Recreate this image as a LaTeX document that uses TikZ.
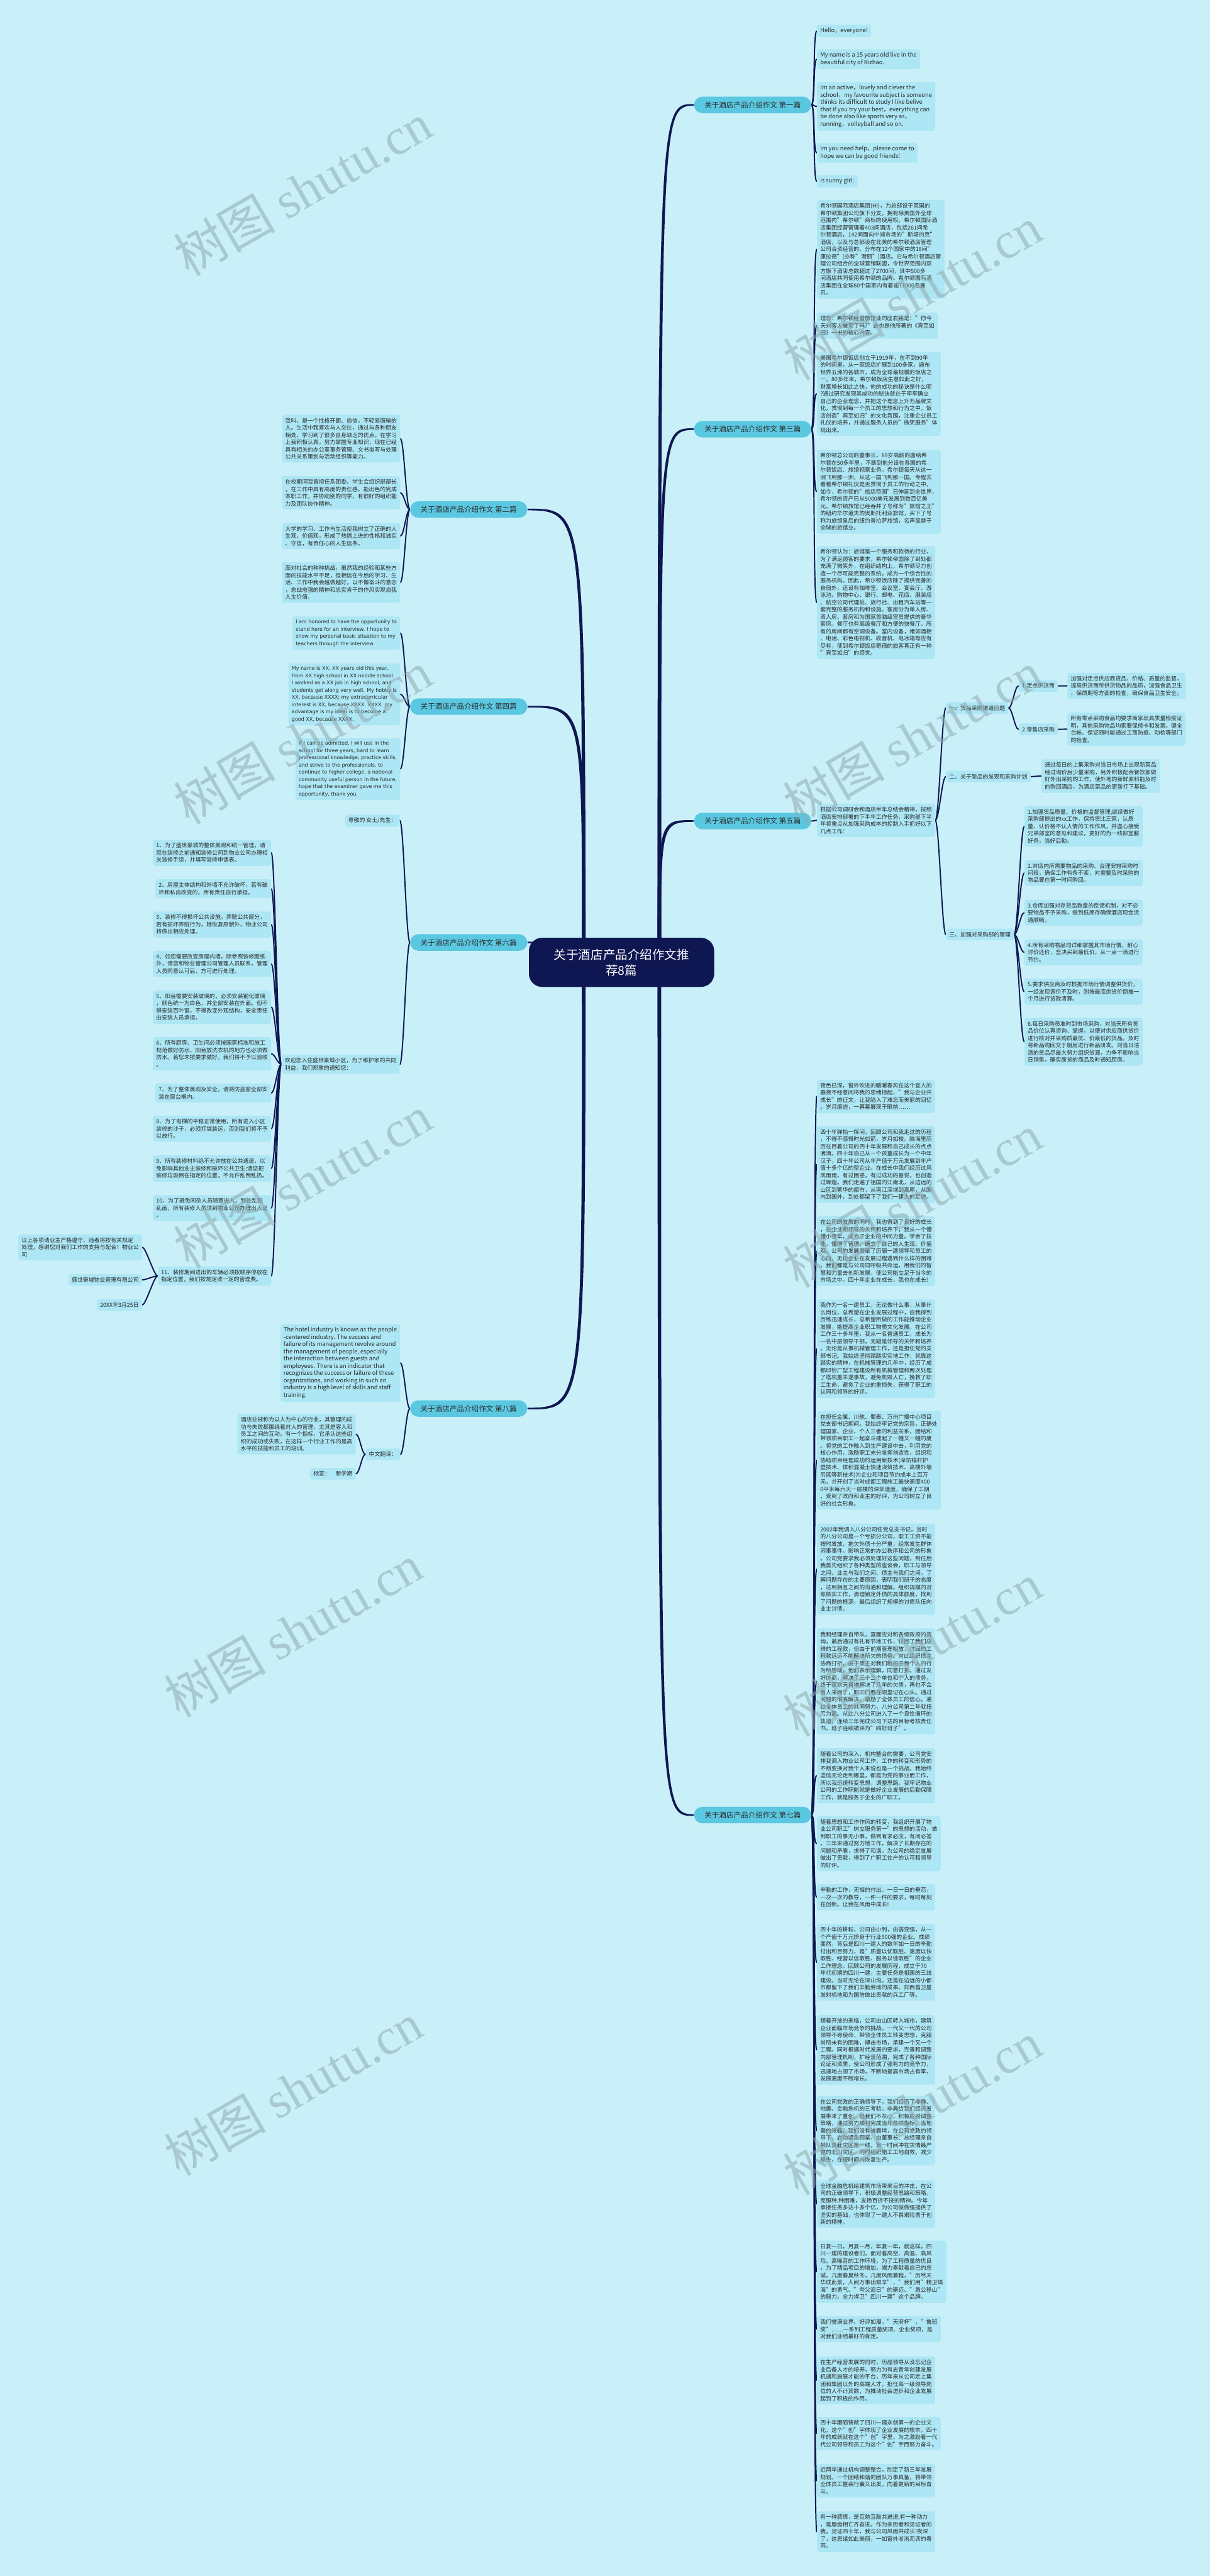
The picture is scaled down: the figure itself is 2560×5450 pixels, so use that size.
\documentclass[tikz,border=0pt]{standalone}
\usepackage{fontspec}
\setmainfont{Noto Sans CJK SC}
\newfontfamily\verdfont{DejaVu Sans}
\newfontfamily\wmlatin{Liberation Serif}
\usetikzlibrary{positioning,calc}

\definecolor{bgc}{HTML}{C9F0F8}
\definecolor{boxc}{HTML}{ADE6F4}
\definecolor{brc}{HTML}{5BC8E2}
\definecolor{navy}{HTML}{0F1752}
\definecolor{txt}{HTML}{2A2A2A}
\definecolor{wmc}{HTML}{8FAAB0}

\newcommand{\leaffont}{\fontsize{5.9}{7.65}\selectfont}
\newcommand{\engfont}{\fontsize{6.2}{7.65}\selectfont}
\newcommand{\verdsize}{\verdfont\fontsize{5.3}{7.65}\selectfont}

% tapered line from the centre: start, end anchor, x direction, y direction
\newcommand{\rootlink}[4]{%
  \fill[navy] ($(#1)+({-4*(#3)},0)$) .. controls ($(#1 |- #2)+({-3*(#3)},{3*(#4)})$) .. ($(#2)+(0,{1.6*(#4)})$)
    -- ($(#2)+(0,{-1.6*(#4)})$) .. controls ($(#1 |- #2)+({3*(#3)},{-3*(#4)})$) .. ($(#1)+({4*(#3)},0)$) -- cycle;}

\pgfdeclarelayer{bg}
\pgfsetlayers{bg,main}

\tikzset{rootbox/.style={fill=navy,text=white,rounded corners=14pt,minimum width=196pt,minimum height=52pt,align=center,font=\fontsize{13}{16.5}\selectfont},
  branch/.style={fill=brc,text=txt,rounded corners=8.75pt,minimum width=124pt,minimum height=17.5pt,inner xsep=6pt,font=\fontsize{7.7}{9}\selectfont},
  leaf/.style={fill=boxc,text=txt,rounded corners=2.5pt,inner xsep=3.5pt,inner ysep=3.4pt,align=left,font=\leaffont},
  eleaf/.style={leaf,font=\engfont},
  vleaf/.style={leaf,font=\verdsize},
  rl/.style={out=0,in=180,out distance=4pt,in distance=4pt},
  lr/.style={out=180,in=0,out distance=4pt,in distance=4pt},
  link/.style={draw=navy,line width=1.3pt,line cap=round},
  wmark/.style={text=wmc,opacity=0.55,rotate=30,font=\fontsize{54}{54}\selectfont} }

\begin{document}
\begin{tikzpicture}[x=0.5pt,y=-0.5pt]
\useasboundingbox (0,0) rectangle (2560,5450);

% centre and the eight branches
\node[rootbox] (root) at (1315,2036) {关于酒店产品介绍作文推\\荐8篇};
\coordinate (rootR) at (1395,2036);
\coordinate (rootL) at (1235,2036);

\node[branch,anchor=west] (b1) at (1468,222) {关于酒店产品介绍作文 第一篇};
\node[branch,anchor=west] (b3) at (1468,908) {关于酒店产品介绍作文 第三篇};
\node[branch,anchor=west] (b5) at (1468,1737) {关于酒店产品介绍作文 第五篇};
\node[branch,anchor=west] (b7) at (1468,3840) {关于酒店产品介绍作文 第七篇};
\node[branch,anchor=east] (b2) at (1116,1078) {关于酒店产品介绍作文 第二篇};
\node[branch,anchor=east] (b4) at (1116,1495) {关于酒店产品介绍作文 第四篇};
\node[branch,anchor=east] (b6) at (1116,1994) {关于酒店产品介绍作文 第六篇};
\node[branch,anchor=east] (b8) at (1116,2980) {关于酒店产品介绍作文 第八篇};

% first
\node[eleaf,anchor=north west] (f1) at (1728,52) {Hello，everyone!};
\node[eleaf,anchor=north west] (f2) at (1728,104) {My name is  a 15 years old  live in the\\beautiful city of Rizhao.};
\node[eleaf,anchor=north west] (f3) at (1728,173) {Im an active，lovely and clever  the\\school，my favourite subject is  someone\\ thinks its difficult to study  I like  belive\\that if you try your best，everything can\\be done  also like sports very  as，\\running，volleyball and so on.};
\node[eleaf,anchor=north west] (f4) at (1728,302) {Im  you need help，please come to\\hope we can be good friends!};
\node[eleaf,anchor=north west] (f5) at (1728,370) {is  sunny girl.};

% third
\node[leaf,anchor=north west] (t1) at (1728,423) {希尔顿国际酒店集团(HI)，为总部设于英国的\\希尔顿集团公司旗下分支，拥有除美国外全球\\范围内"希尔顿"商标的使用权。希尔顿国际酒\\店集团经营管理着403间酒店，包括261间希\\尔顿酒店，142间面向中端市场的"斯堪的克"\\酒店，以及与总部设在北美的希尔顿酒店管理\\公司合资经营的、分布在12个国家中的18间"\\康拉德"(亦称"港丽")酒店。它与希尔顿酒店管\\理公司组合的全球营销联盟，令世界范围内双\\方旗下酒店总数超过了2700间，其中500多\\间酒店共同使用希尔顿的品牌。希尔顿国际酒\\店集团在全球80个国家内有着逾71000名雇\\员。};
\node[leaf,anchor=north west] (t2) at (1728,661) {理念：希尔顿经营旅馆业的座右铭是："你今\\天对客人微笑了吗?"这也是他所著的《宾至如\\归》一书的核心内容。};
\node[leaf,anchor=north west] (t3) at (1728,744) {美国希尔顿饭店创立于1919年，在不到90年\\的时间里，从一家饭店扩展到100多家，遍布\\世界五洲的各城市，成为全球最规模的饭店之\\一。80多年来，希尔顿饭店生意如此之好，\\财富增长如此之快，他的成功的秘诀是什么呢\\?通过研究发现其成功的秘诀就在于牢牢确立\\自己的企业理念，并把这个理念上升为品牌文\\化，贯彻到每一个员工的思想和行为之中，饭\\店创造"宾至如归"的文化氛围，注重企业员工\\礼仪的培养，并通过服务人员的"微笑服务"体\\现出来。};
\node[leaf,anchor=north west] (t4) at (1728,951) {希尔顿总公司的董事长，89岁高龄的唐纳希\\尔顿在50多年里，不断到他分设在各国的希\\尔顿饭店、旅馆视察业务。希尔顿每天从这一\\洲飞到那一洲，从这一国飞到那一国。专程去\\看看希尔顿礼仪是否贯彻于员工的行动之中。\\如今，希尔顿的"旅店帝国"已伸延到全世界，\\希尔顿的资产已从5000美元发展到数百亿美\\元。希尔顿旅馆已经吞并了号称为"旅馆之王"\\的纽约华尔道夫的奥斯托利亚旅馆，买下了号\\称为旅馆皇后的纽约普拉萨旅馆，名声显赫于\\全球的旅馆业。};
\node[leaf,anchor=north west] (t5) at (1728,1155) {希尔顿认为：旅馆是一个服务和款待的行业，\\为了满足顾客的要求，希尔顿帝国除了到处都\\充满了微笑外，在组织结构上，希尔顿尽力创\\造一个尽可能完整的系统，成为一个综合性的\\服务机构。因此，希尔顿饭店除了提供完善的\\食宿外，还设有咖啡室、会议室、宴会厅、游\\泳池、购物中心、银行、邮电、花店、服装店\\、航空公司代理处、旅行社、出租汽车站等一\\套完整的服务机构和设施。客房分为单人房、\\双人房、套房和为国家首脑级官员提供的豪华\\套房。餐厅也有高级餐厅和方便的快餐厅。所\\有的房间都有空调设备。室内设备，诸如酒柜\\、电话、彩色电视机、收音机、电冰箱等应有\\尽有，使到希尔顿饭店寄宿的旅客真正有一种\\"宾至如归"的感觉。};

% fifth
\node[leaf,anchor=north west] (p0) at (1728,1700) {根据公司调研会和酒店半年总结会精神，按照\\酒店安排部署的下半年工作任务，采购部下半\\年将重点从加强采购成本的控制入手抓好以下\\几点工作：};
\node[leaf,anchor=west] (s1) at (2001,1498) {一、货品采购渠道问题};
\node[leaf,anchor=west] (s2) at (2001,1643) {二、关于新品的发现和采购计划};
\node[leaf,anchor=west] (s3) at (2001,1977) {三、加强对采购部的管理};
\node[leaf,anchor=west] (s11) at (2155,1451) {1.定点供货商};
\node[leaf,anchor=west] (s12) at (2155,1543) {2.零售店采购};
\node[leaf,anchor=north west] (q1) at (2258,1423) {加强对定点供应商货品、价格、质量的监督，\\提高供货商所供货物品的品质，加强食品卫生\\、保质期等方面的检查，确保食品卫生安全。};
\node[leaf,anchor=north west] (q2) at (2258,1507) {所有零点采购食品均要求商家出具质量检疫证\\明，其他采购物品均索要保修卡和发票。健全\\台帐、保证随时能通过工商防疫、动检等部门\\的检查。};
\node[leaf,anchor=north west] (q3) at (2203,1606) {通过每日的上集采购对当日市场上出现新菜品\\经过询价后少量采购，另外积极配合餐饮部做\\好外出采购的工作，使外地的新鲜原料能及时\\的购回酒店，为酒店菜品的更新打下基础。};
\node[leaf,anchor=north west] (c1) at (2167,1705) {1.加强货品质量、价格的监督管理;继续做好\\采购部提出的xx工作，保持货比三家，认质\\量、认价格不认人情的工作作风，并虚心接受\\兄弟部室的意见和建议，更好的为一线部室服\\好务，当好后勤。};
\node[leaf,anchor=north west] (c2) at (2167,1819) {2.对店内所需要物品的采购、合理安排采购时\\间段，确保工作有条不紊，对需要及时采购的\\物品要在第一时间购回。};
\node[leaf,anchor=north west] (c3) at (2167,1903) {3.仓库加强对存货品数量的反馈机制，对不必\\要物品不予采购，做到低库存确保酒店现金流\\通顺畅。};
\node[leaf,anchor=north west] (c4) at (2167,1987) {4.所有采购物品均详细掌握其市场行情，耐心\\讨价还价，坚决买到最低价，从一点一滴进行\\节约。};
\node[leaf,anchor=north west] (c5) at (2167,2070) {5.要求供应商及时根据市场行情调整供货价，\\一经发现调价不及时，则按最底供货价倒推一\\个月进行货款清算。};
\node[leaf,anchor=north west] (c6) at (2167,2153) {6.每日采购员准时到市场采购，对当天所有货\\品价位认真咨询、掌握，以便对供应商供货价\\进行核对并采购质最优、价最低的货品。及时\\将新品购回交于厨房进行新品研发。对当日沽\\清的货品尽最大努力组织货源，力争不影响当\\日销售，确实断货的商品及时通知厨房。};

% seventh
\node[leaf,anchor=north west] (g1) at (1728,2284) {夜色已深，窗外吹进的暖暖春风在这个宜人的\\春夜不经意间将我的思绪掠起，"我与企业共\\成长"的征文，让我陷入了难忘而美丽的回忆\\。岁月痕迹，一幕幕展现于眼前……};
\node[leaf,anchor=north west] (g2) at (1728,2382) {四十年弹指一挥间，回顾公司和我走过的历程\\，不得不感慨时光如箭，岁月如梭。脑海里历\\历在目着公司的四十年发展和自己成长的点点\\滴滴。四十年自己从一个孩童成长为一个中年\\汉子，四十年公司从年产值千万元发展到年产\\值十多个亿的型企业。在成长中我们经历过风\\风雨雨，有过困惑，有过成功的喜悦，也创造\\过辉煌。我们走遍了祖国的江南北，从边远的\\山区到繁华的都市，从南江深圳到高原，从国\\内到国外，到处都留下了我们一建人的足迹。};
\node[leaf,anchor=north west] (g3) at (1728,2573) {在公司的发展的同时，我也得到了良好的成长\\，在企业和领导的关怀和培养下，我从一个懵\\懂小青年，成为了企业的中间力量。学会了技\\能，懂得了管理，确立了自己的人生观、价值\\观。公司的发展凝聚了历届一建领导和员工的\\心血，无论企业在发展过程遇到什么样的困难\\，我们都是与公司同呼吸共命运，用我们的智\\慧和力量去创新发展，使公司能立足于当今的\\市场之中。四十年企业在成长，我也在成长!};
\node[leaf,anchor=north west] (g4) at (1728,2749) {我作为一名一建员工，无论做什么事，从事什\\么岗位，总希望在企业发展过程中，自我得到\\历练迅速成长，总希望所做的工作能推动企业\\发展，能提高企业职工物质文化发展。在公司\\工作三十多年里，我从一名普通员工，成长为\\一名中层领导干部，无疑是领导的关怀和培养\\。无论是从事机械管理工作，还是担任党的支\\部书记。我始终坚持踏踏实实地工作，就靠这\\踏实的精神，在机械管理的几年中，经历了成\\都印钞厂型工程建设所有机械管理和两次处理\\了塔机重未遂事故，避免机毁人亡，挽救了职\\工生命，避免了企业的重损失，获得了职工的\\认同和领导的好评。};
\node[leaf,anchor=north west] (g5) at (1728,2985) {在担任金属、川航、蜀泰、万州广播中心项目\\党支部书记期间。我始终牢记党的宗旨，正确处\\理国家、企业、个人三者的利益关系，团结和\\带领项目职工一起奋斗建起了一幢又一幢的厦\\。将党的工作融入到生产建设中去，利用党的\\核心作用，激励职工充分发挥创造性，组织和\\协助项目经理成功的运用新技术(深坑锚杆护\\壁技术、体积混凝土快速浇筑技术、高楼外墙\\吊篮等新技术)为企业和项目节约成本上百万\\元，并开创了当时成都工程施工最快速度400\\0平米每六天一层楼的深圳速度，确保了工期\\，受到了政府和业主的好评，为公司树立了良\\好的社会形象。};
\node[leaf,anchor=north west] (g6) at (1728,3223) {2002年我调入八分公司任党总支书记，当时\\的八分公司是一个亏损分公司，职工工资不能\\按时发放，拖欠外债十分严重，经常发生群体\\闹事事件，影响正常的办公秩序和公司的形象\\。公司党要求我必须处理好这些问题，到任后\\我首先组织了各种类型的座谈会，职工与领导\\之间、业主与我们之间、债主与我们之间，了\\解问题存在的主要原因，表明我们班子的态度\\，达到相互之间的沟通和理解。组织规模的对\\账核实工作，清理锁定外债的具体额度，找到\\了问题的根源，最后组织了规模的讨债队伍向\\业主讨债。};
\node[leaf,anchor=north west] (g7) at (1728,3445) {我和经理亲自带队，直面应对和各级政府的咨\\询，最后通过有礼有节地工作，讨回了我们应\\得的工程款，但由于前期管理粗放，讨回的工\\程款远远不能解决所欠的债务。对此组织债主\\协商打折，由于债主对我们新班子每个人的行\\为所感动，他们表示理解，同意打折。通过友\\好协商，解决了三十二个单位和个人的债务，\\终于家欢天喜地解决了几年的欠债，再也不会\\有人来闹了，职工们看在眼里记在心头。通过\\问题的彻底解决，激励了全体员工的信心，通\\过全体员工的共同努力，八分公司第二年就扭\\亏为盈。从此八分公司进入了一个良性循环的\\轨道，连续三年完成公司下达的目标考核责任\\书，班子连续被评为"四好班子"。};
\node[leaf,anchor=north west] (g8) at (1728,3698) {随着公司的深入，机构整合的需要，公司党安\\排我调入物业公司工作，工作的转变和形势的\\不断变换对我个人来说也是一个挑战。我始终\\坚信无论走到哪里，都是为党的事业而工作，\\所以我迅速转变思想，调整思路。我牢记物业\\公司的工作职能就是做好企业发展的后勤保障\\工作，就是服务于企业的广职工。};
\node[leaf,anchor=north west] (g9) at (1728,3842) {随着思想和工作作风的转变，我组织开展了物\\业公司职工"树立服务第一"的思想的活动，做\\到职工的事无小事，做到有求必应，有问必答\\。三年来通过努力地工作，解决了长期存在的\\问题和矛盾，求得了和谐，为公司的稳定发展\\做出了贡献，得到了广职工住户的认可和领导\\的好评。};
\node[leaf,anchor=north west] (g10) at (1728,3986) {辛勤的工作，无悔的付出。一日一日的垂范，\\一次一次的教导，一件一件的要求，每时每刻\\在创新。让我在风雨中成长!};
\node[leaf,anchor=north west] (g11) at (1728,4070) {四十年的耕耘，公司由小到，由弱变强，从一\\个产值千万元挤身于行业500强的企业。成绩\\斐然，背后是四川一建人的数年如一日的辛勤\\付出和巨努力，是"质量以优取胜、速度以快\\取胜、经营以信取胜、服务以佳取胜"的企业\\工作理念。回顾公司的发展历程，成立于70\\年代初期的四川一建，主要任务是祖国的三线\\建设。当时无论在深山沟，还是在边远的小都\\市都留下了我们辛勤劳动的成果。如西昌卫星\\发射机地和为国防做出贡献的兵工厂等。};
\node[leaf,anchor=north west] (g12) at (1728,4263) {随着开放的来临，公司由山区转入城市，建筑\\企业面临市场竞争的挑战，一代又一代的公司\\领导不辱使命，带领全体员工转变思想，克服\\前所未有的困难，搏击市场，承建一个又一个\\工程。同时根据时代发展的要求，完善和调整\\内部管理机制，扩经营范围，完成了各种国际\\论证和资质，使公司形成了强有力的竞争力，\\迅速地占领了市场，不断地提高市场占有率，\\发展速度不断增长。};
\node[leaf,anchor=north west] (g13) at (1728,4434) {在公司党政的正确领导下，我们经历了非典、\\地震、金融危机的三考验。非典给我们经济发\\展带来了重创，但我们不灰心，积极应对调整\\策略，通过努力顺利完成当年各项指标。当地\\震的来临，我们没有被震垮，在公司党政的领\\导下，启动紧急预案，由董事长、总经理亲自\\带队奔赴灾区第一线，第一时间冲在灾情最严\\重的北川灾区，同时组织施工工地自救，减少\\损失，在短时间内恢复生产。};
\node[leaf,anchor=north west] (g14) at (1728,4612) {全球金融危机给建筑市场带来巨的冲击，在公\\司的正确领导下，积极调整经营思路和策略，\\克服种.种困难，发扬百折不挠的精神。今年\\承接任务多达十多个亿，为公司做做强提供了\\坚实的基础，也体现了一建人不畏艰险勇于创\\新的精神。};
\node[leaf,anchor=north west] (g15) at (1728,4740) {日复一日，月复一月，年复一年，就这样，四\\川一建的建设者们，面对着高空、高温、高风\\险、高噪音的工作环境，为了工程质量的优良\\，为了精品项目的增加，竭力奉献着自己的忠\\诚。几度春夏秋冬，几度风雨兼程，"历尽天\\华成此景，人间万事出艰辛"，"我们用"精卫填\\海"的勇气、"夸父追日"的豪迈、"愚公移山"\\的毅力，全力捍卫"四川一建"这个品牌。};
\node[leaf,anchor=north west] (g16) at (1728,4900) {我们誉满业界、好评如潮，"天府杯"，"鲁班\\奖"……一系列工程质量奖项、企业奖项，是\\对我们业绩最好的肯定。};
\node[leaf,anchor=north west] (g17) at (1728,4985) {在生产经营发展的同时，历届领导从没忘记企\\业后备人才的培养，努力为有志青年创建发展\\机遇和施展才能的平台，历年来从公司走上集\\团和集团以外的高端人才，担任高一级领导岗\\位的人不计其数，为推动社会进步和企业发展\\起到了积极的作用。};
\node[leaf,anchor=north west] (g18) at (1728,5113) {四十年磨砺铸就了四川一建永创第一的企业文\\化，这个"创"字体现了企业发展的根本，四十\\年的成就就在这个"创"字里，为之激励着一代\\代公司领导和员工为这个"创"字而努力奋斗。};
\node[leaf,anchor=north west] (g19) at (1728,5213) {近两年通过机构调整整合，制定了新三年发展\\规划。一个团结和谐的团队万事具备，将带领\\全体员工整装行囊又出发，向着更新的目标奋\\斗。};
\node[leaf,anchor=north west] (g20) at (1728,5313) {有一种感情，是互勉互励共进退;有一种动力\\，是唇齿相亡齐奋进。作为亲历者和见证者的\\我，见证四十年，我与公司风雨共成长!夜深\\了，这思绪如此美丽，一如窗外淅淅沥沥的春\\雨。};

% second
\node[leaf,anchor=north east] (e1) at (847,877) {我叫，是一个性格开朗、自信，不轻易服输的\\人。生活中我喜欢与人交往，通过与各种朋友\\相处，学习到了很多自身缺乏的优点。在学习\\上我积极认真，努力掌握专业知识，现在已经\\具有相关的办公室事务管理、文书拟写与处理\\公共关系策划与活动组织等能力。};
\node[leaf,anchor=north east] (e2) at (847,1007) {在校期间我曾担任系团委、学生会组织部部长\\，在工作中具有高度的责任感，能出色的完成\\本职工作，并协助别的同学，有很好的组织能\\力及团队协作精神。};
\node[leaf,anchor=north east] (e3) at (847,1106) {大学的学习、工作与生活使我树立了正确的人\\生观、价值观，形成了热情上进的性格和诚实\\、守信，有责任心的人生信条。};
\node[leaf,anchor=north east] (e4) at (847,1189) {面对社会的种种挑战，虽然我的经验和某些方\\面的技能水平不足，但相信在今后的学习、生\\活、工作中我会越做越好，以不懈奋斗的意念\\，愈战愈强的精神和忠实肯干的作风实现自我\\人生价值。};

% fourth
\node[vleaf,anchor=north east] (e5) at (847,1304) {I am honored to have the opportunity to\\stand here for an interview. I hope to\\show my personal basic situation to my\\teachers through the interview};
\node[vleaf,anchor=north east] (e6) at (847,1403) {My name is XX, XX years old this year,\\from XX high school in XX middle school.\\ I worked as a XX job in high school, and\\students get along very well. My hobby is\\ XX, because XXXX; my extracurricular\\interest is XX, because XXXX. XXXX. my\\advantage is my ideal is to become a\\good XX, because XXXX.};
\node[vleaf,anchor=north east] (e7) at (847,1561) {If I can be admitted, I will use in the\\school for three years, hard to learn\\professional knowledge, practice skills,\\and strive to the professionals, to\\continue to higher college, a national\\community useful person in the future,\\hope that the examiner gave me this\\opportunity, thank you.};

% sixth
\node[leaf,anchor=north east] (x0) at (846,1723) {尊敬的 女士/先生：};
\node[leaf,anchor=north east] (x1) at (846,2231) {欢迎您入住盛世豪城小区，为了维护家的共同\\利益，我们郑重的通知您：};
\node[leaf,anchor=north east] (n1) at (574,1776) {1、为了盛世豪城的整体美观和统一管理，请\\您在装修之前通知装修公司到物业公司办理相\\关装修手续，并填写装修申请表。};
\node[leaf,anchor=north east] (n2) at (574,1860) {2、房屋主体结构和外墙不允许破坏，若有破\\坏和私自改变的，所有责任自行承担。};
\node[leaf,anchor=north east] (n3) at (574,1928) {3、装修不得损坏公共设施，弄赃公共部分，\\若有损坏弄赃行为，除恢复原貌外，物业公司\\将做出相应处理。};
\node[leaf,anchor=north east] (n4) at (574,2011) {4、如您需要改变房屋内墙，除参照装修图纸\\外，请您和物业管理公司管理人员联系，管理\\人员同意认可后，方可进行处理。};
\node[leaf,anchor=north east] (n5) at (574,2095) {5、阳台需要安装玻璃的，必须安装钢化玻璃\\，颜色统一为白色，并全部安装在外面。但不\\得安装百叶窗，不得改变外观结构，安全责任\\由安装人员承担。};
\node[leaf,anchor=north east] (n6) at (574,2194) {6、所有厨房、卫生间必须按国家标准和施工\\规范做好防水，阳台放洗衣机的地方也必须做\\防水。若您未按要求做好，我们将不予以验收\\。};
\node[leaf,anchor=north east] (n7) at (574,2292) {7、为了整体美观及安全，请将防盗窗全部安\\装在窗台框内。};
\node[leaf,anchor=north east] (n8) at (574,2360) {8、为了电梯的平稳正常使用，所有进入小区\\装修的沙子，必须打袋装运，否则我们将不予\\以放行。};
\node[leaf,anchor=north east] (n9) at (574,2444) {9、所有装修材料绝不允许放在公共通道，以\\免影响其他业主装修和破坏公共卫生;请您把\\装修垃圾倒在指定的位置，不允许乱倒乱扔。};
\node[leaf,anchor=north east] (n10) at (574,2528) {10、为了避免闲杂人员随意进入，到处乱贴\\乱画，所有装修人员须到物业公司办理出入证\\。};
\node[leaf,anchor=north east] (n11) at (574,2679) {11、装修期间进出的车辆必须按顺序停放在\\指定位置，我们按规定收一定的管理费。};
\node[leaf,anchor=north east] (z1) at (301,2611) {以上各项请业主严格遵守，违者将按有关规定\\处理，感谢您对我们工作的支持与配合！物业公\\司};
\node[leaf,anchor=north east] (z2) at (301,2695) {盛世豪城物业管理有限公司};
\node[leaf,anchor=north east] (z3) at (301,2748) {20XX年3月25日};

% eighth
\node[eleaf,anchor=north east] (h1) at (847,2801) {The hotel industry is known as the people\\-centered industry. The success and\\failure of its management revolve around\\ the management of people, especially\\the interaction between guests and\\employees. There is an indicator that\\recognizes the success or failure of these\\organizations, and working in such an\\industry is a high level of skills and staff\\training.};
\node[leaf,anchor=east] (h2) at (847,3077) {中文翻译：};
\node[leaf,anchor=north east] (h3) at (753,2991) {酒店业被称为以人为中心的行业，其管理的成\\功与失败都围绕着对人的管理，尤其是客人和\\员工之间的互动。有一个指标，它承认这些组\\织的成功或失败，在这样一个行业工作的是高\\水平的技能和员工的培训。};
\node[leaf,anchor=east] (h4) at (753,3118) {标签：\quad 新学期};

\begin{pgfonlayer}{bg}
\fill[bgc] (0,0) rectangle (2560,5450);
% root to branches
\rootlink{rootR}{b1.west}{1}{-1}
\rootlink{rootR}{b3.west}{1}{-1}
\rootlink{rootR}{b5.west}{1}{-1}
\rootlink{rootR}{b7.west}{1}{1}
\rootlink{rootL}{b2.east}{-1}{-1}
\rootlink{rootL}{b4.east}{-1}{-1}
\rootlink{rootL}{b6.east}{-1}{-1}
\rootlink{rootL}{b8.east}{-1}{1}

\path[link]
  (b1.east) edge[rl] (f1.west)
  (b1.east) edge[rl] (f2.west)
  (b1.east) edge[rl] (f3.west)
  (b1.east) edge[rl] (f4.west)
  (b1.east) edge[rl] (f5.west)

  (b3.east) edge[rl] (t1.west)
  (b3.east) edge[rl] (t2.west)
  (b3.east) edge[rl] (t3.west)
  (b3.east) edge[rl] (t4.west)
  (b3.east) edge[rl] (t5.west)

  (b5.east) edge[rl] (p0.west)
  (p0.east) edge[rl] (s1.west)
  (p0.east) edge[rl] (s2.west)
  (p0.east) edge[rl] (s3.west)
  (s1.east) edge[rl] (s11.west)
  (s1.east) edge[rl] (s12.west)
  (s11.east) edge[rl] (q1.west)
  (s12.east) edge[rl] (q2.west)
  (s2.east) edge[rl] (q3.west)
  (s3.east) edge[rl] (c1.west)
  (s3.east) edge[rl] (c2.west)
  (s3.east) edge[rl] (c3.west)
  (s3.east) edge[rl] (c4.west)
  (s3.east) edge[rl] (c5.west)
  (s3.east) edge[rl] (c6.west);

\path[link]
  (b7.east) edge[rl] (g1.west)
  (b7.east) edge[rl] (g2.west)
  (b7.east) edge[rl] (g3.west)
  (b7.east) edge[rl] (g4.west)
  (b7.east) edge[rl] (g5.west)
  (b7.east) edge[rl] (g6.west)
  (b7.east) edge[rl] (g7.west)
  (b7.east) edge[rl] (g8.west)
  (b7.east) edge[rl] (g9.west)
  (b7.east) edge[rl] (g10.west)
  (b7.east) edge[rl] (g11.west)
  (b7.east) edge[rl] (g12.west)
  (b7.east) edge[rl] (g13.west)
  (b7.east) edge[rl] (g14.west)
  (b7.east) edge[rl] (g15.west)
  (b7.east) edge[rl] (g16.west)
  (b7.east) edge[rl] (g17.west)
  (b7.east) edge[rl] (g18.west)
  (b7.east) edge[rl] (g19.west)
  (b7.east) edge[rl] (g20.west);

\path[link]
  (b2.west) edge[lr] (e1.east)
  (b2.west) edge[lr] (e2.east)
  (b2.west) edge[lr] (e3.east)
  (b2.west) edge[lr] (e4.east)
  (b4.west) edge[lr] (e5.east)
  (b4.west) edge[lr] (e6.east)
  (b4.west) edge[lr] (e7.east)

  (b6.west) edge[lr] (x0.east)
  (b6.west) edge[lr] (x1.east)
  (x1.west) edge[lr] (n1.east)
  (x1.west) edge[lr] (n2.east)
  (x1.west) edge[lr] (n3.east)
  (x1.west) edge[lr] (n4.east)
  (x1.west) edge[lr] (n5.east)
  (x1.west) edge[lr] (n6.east)
  (x1.west) edge[lr] (n7.east)
  (x1.west) edge[lr] (n8.east)
  (x1.west) edge[lr] (n9.east)
  (x1.west) edge[lr] (n10.east)
  (x1.west) edge[lr] (n11.east)
  (n11.west) edge[lr] (z1.east)
  (n11.west) edge[lr] (z2.east)
  (n11.west) edge[lr] (z3.east)

  (b8.west) edge[lr] (h1.east)
  (b8.west) edge[lr] (h2.east)
  (h2.west) edge[lr] (h3.east)
  (h2.west) edge[lr] (h4.east);
\end{pgfonlayer}

% watermarks
\node[wmark] (w1) at (640,400) {树图 {\wmlatin shutu.cn}};
\node[wmark] (w2) at (640,1560) {树图 {\wmlatin shutu.cn}};
\node[wmark] (w3) at (640,2500) {树图 {\wmlatin shutu.cn}};
\node[wmark] (w4) at (620,3450) {树图 {\wmlatin shutu.cn}};
\node[wmark] (w5) at (620,4420) {树图 {\wmlatin shutu.cn}};
\node[wmark] (w6) at (1930,620) {树图 {\wmlatin shutu.cn}};
\node[wmark] (w7) at (1930,1560) {树图 {\wmlatin shutu.cn}};
\node[wmark] (w8) at (1930,2540) {树图 {\wmlatin shutu.cn}};
\node[wmark] (w9) at (1930,3490) {树图 {\wmlatin shutu.cn}};
\node[wmark] (w10) at (1930,4460) {树图 {\wmlatin shutu.cn}};
\end{tikzpicture}
\end{document}
